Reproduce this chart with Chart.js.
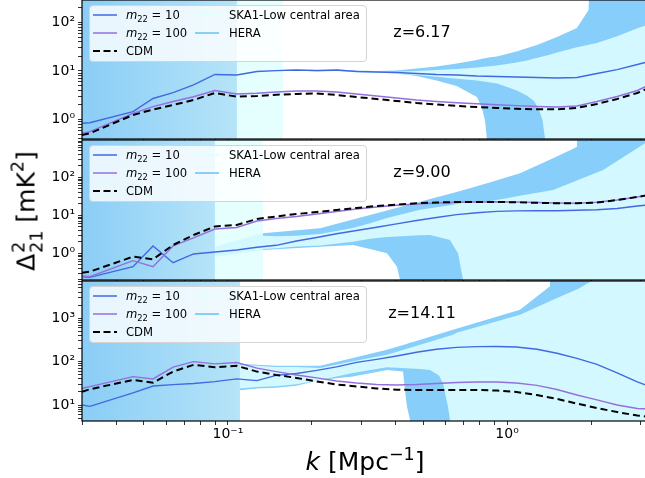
<!DOCTYPE html>
<html>
<head>
<meta charset="utf-8">
<title>21cm power spectrum, three redshifts</title>
<script src="https://cdn.jsdelivr.net/npm/chart.js@4.4.1/dist/chart.umd.min.js"></script>
<style>
  html, body { margin: 0; padding: 0; background: #fff; }
  #fig { position: relative; width: 645px; height: 478px; overflow: hidden; font-family: "DejaVu Sans", sans-serif; color: #000; }
  #fig canvas { position: absolute; left: 0; top: 0; }
  .legend { position: absolute; left: 89px; width: 276px; height: 55px; background: rgba(255,255,255,0.8); border: 1px solid #d4d4d4; border-radius: 4px; font-size: 11.6px; }
  .legend .row { position: absolute; height: 16px; line-height: 16px; white-space: nowrap; }
  .legend sub { font-size: 72%; position: relative; top: 0.3em; vertical-align: 0; line-height: 0; }
  .ztxt { position: absolute; font-size: 16px; white-space: nowrap; transform: translate(-50%, -50%); }
  .axlabel { position: absolute; font-size: 25px; white-space: nowrap; transform: translate(-50%, -50%); }
  .axlabel sup { font-size: 70%; position: relative; top: -0.6em; vertical-align: 0; line-height: 0; }
  .ylab { transform: translate(-50%, -50%) rotate(-90deg); }
  .ss { display: inline-block; font-size: 70%; line-height: 1; vertical-align: -0.45em; margin-left: 1px; }
</style>
</head>
<body>
<div id="fig"></div>
<script>
// wavenumbers k [Mpc^-1] shared by all model curves
const K = [0.030, 0.032, 0.0457, 0.0539, 0.0636, 0.0753, 0.0898, 0.1075, 0.127, 0.149,
           0.176, 0.208, 0.245, 0.289, 0.341, 0.402, 0.474, 0.559, 0.66, 0.78,
           0.92, 1.08, 1.28, 1.51, 1.78, 2.10, 2.48, 2.93, 3.2];
const X_MIN = 0.03, X_MAX = 3.39;
const X_TICKS = [0.1, 1];

// z = 6.17
const P1_M10  = [0.835, 0.859, 1.45, 2.71, 3.57, 5.15, 8.47, 8.27, 9.77, 10.2, 10.5, 10.2, 10.5, 9.77, 9.53, 9.31, 8.88, 8.47, 8.27, 7.89, 7.70, 7.52, 7.34, 7.17, 7.34, 8.88, 10.7, 13.6, 15.5];
const P1_M100 = [0.52, 0.56, 1.34, 1.84, 2.35, 2.95, 3.96, 3.36, 3.47, 3.69, 3.87, 3.87, 3.69, 3.36, 3.05, 2.77, 2.52, 2.35, 2.21, 2.11, 2.01, 1.93, 1.85, 1.81, 1.90, 2.35, 2.98, 3.96, 5.02];
const P1_CDM  = [0.48, 0.52, 1.24, 1.6, 1.99, 2.52, 3.52, 2.95, 3.05, 3.25, 3.36, 3.44, 3.2, 2.91, 2.65, 2.41, 2.19, 2.04, 1.90, 1.81, 1.73, 1.66, 1.62, 1.62, 1.73, 2.09, 2.65, 3.52, 4.39];
const P1_Y_TICKS = [1, 10, 100];

// z = 9.00
const P2_M10  = [0.242, 0.233, 0.444, 1.56, 0.566, 0.96, 1.08, 1.22, 1.44, 1.62, 2.11, 2.6, 3.26, 3.98, 4.86, 5.94, 7.3, 8.75, 10.4, 11.7, 12.7, 13.1, 13.2, 13.2, 13.6, 14.0, 15.1, 17.6, 18.7];
const P2_M100 = [0.253, 0.242, 0.639, 0.444, 1.56, 2.53, 4.36, 4.77, 7.08, 8.24, 9.3, 10.8, 12.6, 14.6, 16.5, 18.3, 19.8, 21.1, 22.0, 22.4, 22.7, 22.4, 21.7, 21.1, 20.7, 22.0, 25.3, 30.3, 34.2];
const P2_CDM  = [0.309, 0.328, 0.814, 0.695, 1.65, 3.03, 5.07, 5.56, 8.0, 9.3, 10.8, 12.2, 13.8, 15.6, 17.6, 19.2, 20.7, 21.7, 22.4, 22.4, 22.4, 22.0, 21.3, 20.8, 20.7, 21.7, 25.3, 30.3, 34.2];
const P2_Y_TICKS = [1, 10, 100];

// z = 14.11
const P3_M10  = [10, 9.3, 19, 27.5, 29.5, 31.4, 34.6, 40, 36.5, 48.2, 53.5, 62.9, 75.9, 96.4, 113, 135, 165, 193, 214, 222, 224, 218, 193, 156, 119, 86.6, 55, 34, 27.5];
const P3_M100 = [24.4, 26.5, 45.2, 40, 74.6, 100, 89, 95.3, 70.8, 59, 49.4, 42.2, 35.9, 32.3, 29.8, 29, 29.8, 31.4, 33.1, 34, 34, 32.3, 28.3, 22.8, 17, 13.1, 10, 8.3, 8.1];
const P3_CDM  = [20.3, 23.1, 37.9, 32.8, 59, 84.3, 74.6, 80, 59, 49.4, 42.2, 35, 29.8, 26.8, 24.1, 22.5, 22.2, 22.2, 22.2, 22.2, 21.6, 20, 17, 13.8, 10.8, 8.5, 6.9, 5.7, 5.4];
const P3_Y_TICKS = [10, 100, 1000];

// sensitivity bands (HI / LO = off the plot)
const HI = 1e7, LO = 1e-5;

const P1_HERA_K  = [0.1077, 0.127, 0.149, 0.176, 0.208, 0.245, 0.289, 0.341, 0.402, 0.474, 0.559, 0.66, 0.78, 0.813, 0.834, 0.848, 0.87, 0.92, 1.08, 1.28, 1.51, 1.78, 1.96, 2.05, 3.4];
const P1_HERA_UP = [8.5, 10.0, 10.5, 10.7, 10.7, 10.7, 10.2, 10.0, 10.2, 11.3, 12.4, 14.3, 16.9, 17.8, 18.4, 18.8, 19.2, 19.9, 25.2, 34.4, 50.2, 77, 181, HI, HI];
const P1_HERA_LO = [8.1, 9.5, 10.0, 10.2, 9.8, 10.0, 9.5, 9.3, 8.9, 7.9, 6.4, 4.9, 2.9, 1.73, 0.95, 0.38, LO, LO, LO, LO, LO, LO, LO, LO, LO];
const P1_SKA_K   = [0.1574, 0.176, 0.208, 0.245, 0.289, 0.341, 0.402, 0.474, 0.559, 0.66, 0.78, 0.92, 1.08, 1.18, 1.25, 1.30, 1.34, 1.37, 1.40, 1.51, 1.78, 2.10, 2.48, 2.93, 3.4];
const P1_SKA_UP  = [10.6, 10.7, 10.5, 10.7, 10.0, 9.8, 9.6, 10.0, 10.5, 11.0, 11.8, 13.0, 15.0, 16.5, 18.0, 19.0, 19.8, 20.5, 21.2, 24, 31, 38, 52, 76, 100];
const P1_SKA_LO  = [10.0, 10.2, 9.9, 10.2, 9.5, 9.3, 8.7, 8.3, 7.6, 6.9, 6.4, 5.5, 4.0, 3.1, 2.4, 1.6, 0.98, 0.38, LO, LO, LO, LO, LO, LO, LO];

const P2_HERA_K  = [0.0898, 0.1335, 0.2137, 0.2805, 0.3228, 0.3714, 0.4034, 0.4135, 0.4879, 0.5297, 0.6247, 0.737, 0.848, 1.113, 1.462, 1.696, 1.782, 1.80, 3.4];
const P2_HERA_UP = [1.5, 3.36, 4.55, 7.7, 10.2, 13.4, 15.7, 16.5, 22.8, 26.8, 37, 51.4, 70, 127, 316, 535, 638, HI, HI];
const P2_HERA_LO = [0.8, 1.22, 1.49, 1.65, 1.3, 1.0, 0.44, 0.2, LO, LO, LO, LO, LO, LO, LO, LO, LO, LO, LO];
const P2_SKA_K   = [0.1335, 0.149, 0.176, 0.2137, 0.2805, 0.3228, 0.3714, 0.4879, 0.5297, 0.6247, 0.6673, 0.6956, 0.72, 0.848, 1.113, 1.462, 2.209, 3.124, 3.4];
const P2_SKA_UP  = [2.9, 2.8, 2.9, 3.2, 4.6, 6.16, 8.5, 14, 15.3, 18.5, 20, 21, 21.5, 22.8, 32.5, 46.3, 156, 785, 1100];
const P2_SKA_LO  = [1.3, 1.35, 1.5, 1.6, 2.0, 2.4, 2.7, 3.0, 3.03, 2.24, 1.0, 0.2, LO, LO, LO, LO, LO, LO, LO];

const P3_HERA_K  = [0.1104, 0.127, 0.149, 0.176, 0.2137, 0.2805, 0.3714, 0.4239, 0.4309, 0.4382, 0.4491, 0.4603, 0.6405, 1.113, 1.30, 1.426, 1.45, 3.4];
const P3_HERA_UP = [90, 85, 80, 80, 80, 122, 187, 241, 250, 260, 272, 284, 544, 1581, 3460, 5470, HI, HI];
const P3_HERA_LO = [22, 24, 25, 28, 37.9, 45.2, 64.6, 59, 22.2, 9.1, 4.5, LO, LO, LO, LO, LO, LO, LO];
const P3_SKA_K   = [0.1104, 0.127, 0.149, 0.176, 0.2137, 0.2805, 0.3714, 0.4879, 0.5297, 0.5703, 0.5897, 0.6086, 0.6145, 0.6247, 0.6405, 0.66, 1.113, 1.462, 1.8, 2.05, 2.1, 3.4];
const P3_SKA_UP  = [84, 80, 75, 75, 71.6, 102, 144, 245, 287, 333, 355, 378, 384, 396, 417, 466, 1211, 2690, 4790, 7800, HI, HI];
const P3_SKA_LO  = [24, 26, 27, 30, 37.9, 55, 74.6, 68, 64.6, 48, 31.8, 12, 9.1, 4.5, LO, LO, LO, LO, LO, LO, LO, LO];

const M10_COLOR = '#4169e1';
const M100_COLOR = '#9370db';
const CDM_COLOR = '#000000';
const HERA_COLOR = '#87cefa';
const SKA_COLOR = 'rgba(224, 255, 255, 0.85)';
const GRAD_FROM = 'rgb(138, 205, 246)';
const GRAD_TO = 'rgb(182, 228, 248)';
const K_FAR = 0.01;

const PANELS = [
  { z: 'z=6.17', top: 0, bottom: 139, yMin: 0.396, yMax: 291, yTicks: P1_Y_TICKS,
    m10: P1_M10, m100: P1_M100, cdm: P1_CDM,
    hera: [P1_HERA_K, P1_HERA_UP, P1_HERA_LO], ska: [P1_SKA_K, P1_SKA_UP, P1_SKA_LO] },
  { z: 'z=9.00', top: 140, bottom: 280, yMin: 0.198, yMax: 959, yTicks: P2_Y_TICKS,
    m10: P2_M10, m100: P2_M100, cdm: P2_CDM,
    hera: [P2_HERA_K, P2_HERA_UP, P2_HERA_LO], ska: [P2_SKA_K, P2_SKA_UP, P2_SKA_LO] },
  { z: 'z=14.11', top: 281, bottom: 421, yMin: 4.28, yMax: 7244, yTicks: P3_Y_TICKS, showX: true,
    m10: P3_M10, m100: P3_M100, cdm: P3_CDM,
    hera: [P3_HERA_K, P3_HERA_UP, P3_HERA_LO], ska: [P3_SKA_K, P3_SKA_UP, P3_SKA_LO] }
];

const SUP = {'-': '\u207b', '0': '\u2070', '1': '\u00b9', '2': '\u00b2', '3': '\u00b3'};

function powLabel(v) {
  const e = Math.round(Math.log10(v));
  return '10' + String(e).split('').map(c => SUP[c]).join('');
}

function logTicks(min, max) {
  const out = [];
  for (let e = Math.floor(Math.log10(min)); e <= Math.floor(Math.log10(max)); e++) {
    for (let m = 1; m <= 9; m++) {
      const v = m * Math.pow(10, e);
      if (v >= min && v <= max) out.push(v);
    }
  }
  return out;
}

function majorLabel(v, majors) {
  return majors.some(t => Math.abs(t - v) < t * 1e-6) ? powLabel(v) : '';
}

// closed outline of a band: upper edge forwards, lower edge backwards
function bandShape(band, full) {
  const [ks, up, lo] = band;
  const pts = [];
  if (full) pts.push({x: K_FAR, y: HI}, {x: ks[0], y: HI});
  ks.forEach((k, i) => pts.push({x: k, y: up[i]}));
  for (let i = ks.length - 1; i >= 0; i--) pts.push({x: ks[i], y: lo[i]});
  if (full) pts.push({x: ks[0], y: LO}, {x: K_FAR, y: LO});
  return pts;
}

function curve(vals) {
  return K.map((k, i) => ({x: k, y: vals[i]}));
}

function leftGradient(context) {
  const chart = context.chart;
  const area = chart.chartArea;
  if (!area) return GRAD_TO;
  const x1 = chart.scales.x.getPixelForValue(context.dataset.edge);
  const g = chart.ctx.createLinearGradient(area.left, 0, x1, 0);
  g.addColorStop(0, GRAD_FROM);
  g.addColorStop(1, GRAD_TO);
  return g;
}

const axesBox = {
  id: 'axesBox',
  beforeDraw(chart) {
    const {ctx, chartArea: a} = chart;
    ctx.save();
    ctx.fillStyle = '#fff';
    ctx.fillRect(a.left, a.top, a.right - a.left, a.bottom - a.top);
    ctx.restore();
  },
  afterDatasetsDraw(chart) {
    const {ctx, chartArea: a} = chart;
    ctx.save();
    ctx.strokeStyle = '#000';
    ctx.lineWidth = 1.2;
    ctx.strokeRect(a.left, a.top, a.right - a.left, a.bottom - a.top);
    ctx.restore();
  }
};

const fig = document.getElementById('fig');
Chart.defaults.font.family = '"DejaVu Sans", sans-serif';

PANELS.forEach(p => {
  const canvas = document.createElement('canvas');
  canvas.width = 660;
  canvas.height = 478;
  fig.appendChild(canvas);

  const heraEdge = p.hera[0][0];
  const tickFont = {family: '"DejaVu Sans", sans-serif', size: 14};
  const gridOpts = {drawOnChartArea: false, tickLength: 4, tickColor: '#000', tickWidth: 0.8};

  new Chart(canvas, {
    type: 'line',
    data: {
      datasets: [
        {label: 'm22=10', data: curve(p.m10), borderColor: M10_COLOR, borderWidth: 1.4, order: 2},
        {label: 'm22=100', data: curve(p.m100), borderColor: M100_COLOR, borderWidth: 1.4, order: 1},
        {label: 'CDM', data: curve(p.cdm), borderColor: CDM_COLOR, borderWidth: 2, borderDash: [7, 4], order: 0},
        {label: 'HERA low k', data: bandShape([[heraEdge], [HI], [LO]], true), edge: heraEdge,
         fill: 'shape', backgroundColor: leftGradient, borderColor: 'rgba(0,0,0,0)', borderWidth: 0, order: 3},
        {label: 'SKA1-Low central area', data: bandShape(p.ska, true), fill: 'shape',
         backgroundColor: SKA_COLOR, borderColor: 'rgba(0,0,0,0)', borderWidth: 0, order: 4},
        {label: 'HERA', data: bandShape(p.hera, false), fill: 'shape',
         backgroundColor: HERA_COLOR, borderColor: 'rgba(0,0,0,0)', borderWidth: 0, order: 5}
      ]
    },
    options: {
      responsive: false,
      animation: false,
      devicePixelRatio: 1,
      layout: {padding: {left: 0, right: 5, top: p.top, bottom: 0}},
      elements: {point: {radius: 0}, line: {tension: 0}},
      plugins: {legend: {display: false}, tooltip: {enabled: false}},
      scales: {
        x: {
          type: 'logarithmic', min: X_MIN, max: X_MAX,
          afterBuildTicks: s => { s.ticks = logTicks(X_MIN, X_MAX).map(v => ({value: v})); },
          afterFit: s => { s.height = 478 - p.bottom; s.paddingLeft = 0; s.paddingRight = 0; },
          border: {display: false},
          grid: gridOpts,
          ticks: {display: !!p.showX, autoSkip: false, maxRotation: 0, minRotation: 0, padding: 1,
                  color: '#000', font: tickFont, callback: v => majorLabel(v, X_TICKS)}
        },
        y: {
          type: 'logarithmic', min: p.yMin, max: p.yMax,
          afterBuildTicks: s => { s.ticks = logTicks(p.yMin, p.yMax).map(v => ({value: v})); },
          afterFit: s => { s.width = 82; s.paddingTop = 0; s.paddingBottom = 0; },
          border: {display: false},
          grid: gridOpts,
          ticks: {autoSkip: false, padding: 3, color: '#000', font: tickFont,
                  callback: v => majorLabel(v, p.yTicks)}
        }
      }
    },
    plugins: [axesBox]
  });

  // legend, two columns like the original
  const items = [
    {html: '<i>m</i><sub>22</sub> = 10', color: M10_COLOR, w: 1.5, dash: '', col: 0, row: 0},
    {html: '<i>m</i><sub>22</sub> = 100', color: M100_COLOR, w: 1.5, dash: '', col: 0, row: 1},
    {html: 'CDM', color: CDM_COLOR, w: 2, dash: '7,3.5', col: 0, row: 2},
    {html: 'SKA1-Low central area', color: '#e0ffff', w: 2, dash: '', col: 1, row: 0},
    {html: 'HERA', color: HERA_COLOR, w: 2, dash: '', col: 1, row: 1}
  ];
  const leg = document.createElement('div');
  leg.className = 'legend';
  leg.style.top = (p.top + 5) + 'px';
  items.forEach(it => {
    const hx = it.col === 0 ? 2.7 : 105;
    const tx = it.col === 0 ? 36 : 139;
    const top = 1 + it.row * 18;
    leg.insertAdjacentHTML('beforeend',
      '<svg class="row" style="left:' + hx + 'px;top:' + top + 'px" width="24" height="16">' +
      '<line x1="0" y1="8" x2="24" y2="8" stroke="' + it.color + '" stroke-width="' + it.w + '"' +
      (it.dash ? ' stroke-dasharray="' + it.dash + '"' : '') + '/></svg>' +
      '<div class="row" style="left:' + tx + 'px;top:' + top + 'px">' + it.html + '</div>');
  });
  fig.appendChild(leg);

  const zt = document.createElement('div');
  zt.className = 'ztxt';
  zt.style.left = '422px';
  zt.style.top = (p.top + 31) + 'px';
  zt.textContent = p.z;
  fig.appendChild(zt);
});

fig.insertAdjacentHTML('beforeend',
  '<div class="axlabel ylab" style="left:28px;top:211px">\u0394<span class="ss">2<br>21</span> [mK<sup>2</sup>]</div>' +
  '<div class="axlabel" style="left:365px;top:461px"><i>k</i> [Mpc<sup>\u22121</sup>]</div>');
</script>
</body>
</html>
